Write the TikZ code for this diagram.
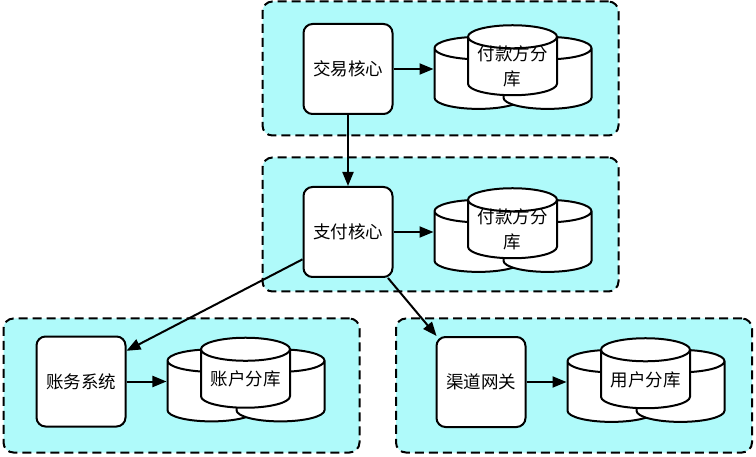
\documentclass[tikz,border=0pt]{standalone}
\usepackage{fontspec}
\setmainfont{Noto Sans CJK SC}
\usetikzlibrary{positioning, shapes.geometric, arrows.meta, calc, backgrounds}
\definecolor{groupcyan}{RGB}{175,250,250}
\newcommand{\dbtext}[1]{\parbox[c][34pt][c]{72pt}{\centering #1}}

\begin{document}
\begin{tikzpicture}[
    x=1pt, y=1pt,
    node distance=71pt,
    arrow/.style={
        -{Triangle[length=14pt,width=11pt]},
        line width=2pt
    },
    group/.style={
        rectangle,
        fill=groupcyan,
        draw,
        line width=2pt,
        dash pattern=on 9pt off 5pt,
        rounded corners=10pt,
        minimum width=356pt,
        minimum height=134pt
    },
    core/.style={
        rectangle,
        fill=white,
        draw,
        line width=2pt,
        rounded corners=9pt,
        minimum width=89pt,
        minimum height=90pt,
        inner sep=0pt,
        font=\fontsize{17.5}{22}\selectfont
    },
    dbback/.style={
        cylinder,
        shape border rotate=90,
        aspect=0.32,
        fill=white,
        draw,
        line width=2pt,
        minimum width=88pt,
        minimum height=72pt,
        inner sep=0pt,
        font=\fontsize{17.5}{25}\selectfont
    },
    dbmain/.style={
        dbback,
        minimum width=89pt,
        minimum height=70pt
    }
]
    \useasboundingbox (0,0) rectangle (756,456);

    % Cores
    \node[core] (jiaoyi) at (348,387) {交易核心};
    \node[core, below=of jiaoyi] (zhifu) {支付核心};
    \node[core] (zhangwu) at (81,74.5) {账务系统};
    \node[core] (qudao) at (481,74) {渠道网关};

    % Payer shards (trade)
    \node[dbback] (jiaoyiDbL) at ($(jiaoyi)+(130.5,-10)$) {\phantom{付款方分}};
    \node[dbback] (jiaoyiDbR) at ($(jiaoyi)+(199.5,-10)$) {\phantom{付款方分}};
    \node[dbmain] (jiaoyiDb) at ($(jiaoyi)+(164.5,2.5)$) {\dbtext{付款方分\\库}};

    % Payer shards (payment)
    \node[dbback] (zhifuDbL) at ($(zhifu)+(130.5,-10)$) {\phantom{付款方分}};
    \node[dbback] (zhifuDbR) at ($(zhifu)+(199.5,-10)$) {\phantom{付款方分}};
    \node[dbmain] (zhifuDb) at ($(zhifu)+(164.5,2.5)$) {\dbtext{付款方分\\库}};

    % Account shards
    \node[dbback] (zhangwuDbL) at ($(zhangwu)+(130.5,-10)$) {\phantom{账户分库}};
    \node[dbback] (zhangwuDbR) at ($(zhangwu)+(199.5,-10)$) {\phantom{账户分库}};
    \node[dbmain] (zhangwuDb) at ($(zhangwu)+(164.5,2.5)$) {\dbtext{账户分库}};

    % User shards
    \node[dbback] (qudaoDbL) at ($(qudao)+(130.5,-10)$) {\phantom{用户分库}};
    \node[dbback] (qudaoDbR) at ($(qudao)+(199.5,-10)$) {\phantom{用户分库}};
    \node[dbmain] (qudaoDb) at ($(qudao)+(164.5,2.5)$) {\dbtext{用户分库}};

    \begin{scope}[on background layer]
        \node[group] (jiaoyiGroup) at (440.5,387.5) {};
        \node[group] (zhifuGroup) at (440.5,231.5) {};
        \node[group] (zhangwuGroup) at (181.5,70.5) {};
        \node[group] (qudaoGroup) at (574,70.5) {};
    \end{scope}

    % Connections
    \draw[arrow] (jiaoyi) -- (jiaoyi -| jiaoyiDbL.west);
    \draw[arrow] (jiaoyi) -- (zhifu);
    \draw[arrow] (zhifu) -- (zhifu -| zhifuDbL.west);
    \draw[arrow] (zhifu.211) -- (zhangwu.34);
    \draw[arrow] (zhifu.311) -- (qudao.134);
    \draw[arrow] (zhangwu) -- (zhangwu -| zhangwuDbL.west);
    \draw[arrow] (qudao) -- (qudao -| qudaoDbL.west);

\end{tikzpicture}
\end{document}
